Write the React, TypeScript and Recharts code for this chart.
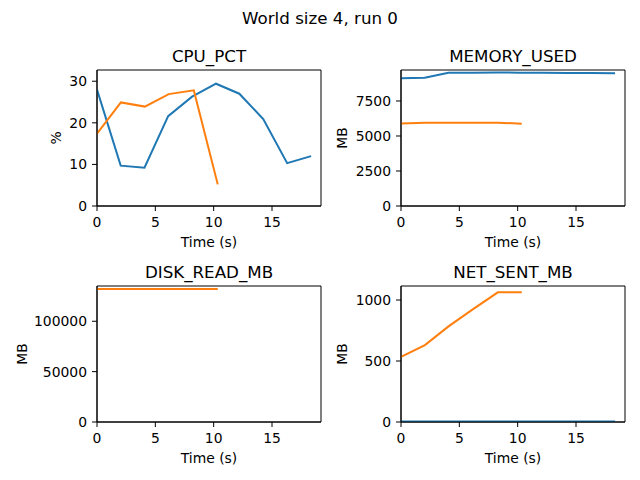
import { LineChart, Line, XAxis, YAxis, ReferenceArea, Label } from "recharts";

// sample times (s) for the two ranks
const BLUE_T = [0, 2.03, 4.07, 6.1, 8.15, 10.2, 12.2, 14.25, 16.3, 18.35];
const ORANGE_T = [0, 2.05, 4.1, 6.15, 8.3, 10.35];

const CPU_BLUE = [28.0, 9.7, 9.2, 21.6, 26.3, 29.4, 27.0, 20.9, 10.3, 12.0];
const CPU_ORANGE = [17.4, 24.9, 23.9, 26.9, 27.8, 5.2];
const MEM_BLUE = [9120, 9160, 9520, 9525, 9530, 9525, 9520, 9500, 9500, 9490];
const MEM_ORANGE = [5900, 5950, 5950, 5950, 5950, 5880];
const DISK_ORANGE = [132100, 132100, 132100, 132100, 132100, 132100];
const NET_BLUE = [4, 4, 4, 4, 4, 4, 4, 4, 4, 4];
const NET_ORANGE = [534, 630, 786, 923, 1063, 1063];

const X_TICKS = [0, 5, 10, 15];
const CPU_TICKS = [0, 10, 20, 30];
const MEM_TICKS = [0, 2500, 5000, 7500];
const DISK_TICKS = [0, 50000, 100000];
const NET_TICKS = [0, 500, 1000];

const BLUE = "#1f77b4";
const ORANGE = "#ff7f0e";
const X_MAX = 19.2;
const FONT = "'DejaVu Sans', sans-serif";

const toRows = (t: number[], v: number[]) => t.map((x, i) => ({ t: x, v: v[i] }));

type Series = { t: number[]; v: number[]; color: string };

function Panel(props: {
  left: number;
  top: number;
  yAxisWidth: number;
  yMax: number;
  yTicks: number[];
  yLabel: string;
  yLabelX: number;
  title: string;
  series: Series[];
}) {
  const { left, top, yAxisWidth, yMax, yTicks, yLabel, yLabelX, title, series } = props;
  const plotW = 224;
  const plotH = 136;
  const mTop = 5;
  const mRight = 5;
  const xAxisH = 50;
  const width = yAxisWidth + plotW + mRight;
  const height = mTop + plotH + xAxisH;
  const tick = { fill: "#000", fontSize: 13.9, fontFamily: FONT };

  return (
    <>
      <div
        style={{
          position: "absolute",
          left: left + yAxisWidth,
          top: top + mTop - 22,
          width: plotW,
          textAlign: "center",
          fontSize: 16.7,
          lineHeight: 1,
          fontFamily: FONT,
          color: "#000",
        }}
      >
        {title}
      </div>
      <div style={{ position: "absolute", left, top }}>
        <LineChart width={width} height={height} margin={{ top: mTop, right: mRight, bottom: 0, left: 0 }}>
          <XAxis
            type="number"
            dataKey="t"
            domain={[0, X_MAX]}
            ticks={X_TICKS}
            allowDataOverflow
            height={xAxisH}
            tick={tick}
            tickSize={5}
            tickMargin={6}
            stroke="#000"
          >
            <Label
              content={({ viewBox }: any) => (
                <text
                  x={viewBox.x + viewBox.width / 2}
                  y={viewBox.y + 41}
                  textAnchor="middle"
                  fontSize={13.9}
                  fontFamily={FONT}
                  fill="#000"
                >
                  Time (s)
                </text>
              )}
            />
          </XAxis>
          <YAxis
            type="number"
            domain={[0, yMax]}
            ticks={yTicks}
            allowDataOverflow
            width={yAxisWidth}
            tick={tick}
            tickSize={5}
            tickMargin={5}
            stroke="#000"
          >
            <Label
              content={({ viewBox }: any) => {
                const cy = viewBox.y + viewBox.height / 2;
                return (
                  <text
                    x={yLabelX}
                    y={cy}
                    transform={`rotate(-90 ${yLabelX} ${cy})`}
                    textAnchor="middle"
                    dominantBaseline="central"
                    fontSize={13.9}
                    fontFamily={FONT}
                    fill="#000"
                  >
                    {yLabel}
                  </text>
                );
              }}
            />
          </YAxis>
          {series.map((s, i) => (
            <Line
              key={i}
              data={toRows(s.t, s.v)}
              dataKey="v"
              stroke={s.color}
              strokeWidth={2}
              dot={false}
              activeDot={false}
              isAnimationActive={false}
            />
          ))}
          <ReferenceArea x1={0} x2={X_MAX} y1={0} y2={yMax} fill="none" stroke="#000" strokeWidth={1} />
        </LineChart>
      </div>
    </>
  );
}

export default function App() {
  return (
    <div
      style={{
        position: "absolute",
        left: 0,
        top: 0,
        width: 640,
        height: 480,
        background: "#fff",
        fontFamily: FONT,
      }}
    >
      <div
        style={{
          position: "absolute",
          left: 0,
          top: 10,
          width: 640,
          textAlign: "center",
          fontSize: 16.7,
          lineHeight: 1,
          color: "#000",
        }}
      >
        World size 4, run 0
      </div>
      <Panel
        left={0}
        top={65}
        yAxisWidth={97}
        yMax={32.7}
        yTicks={CPU_TICKS}
        yLabel="%"
        yLabelX={56}
        title="CPU_PCT"
        series={[
          { t: BLUE_T, v: CPU_BLUE, color: BLUE },
          { t: ORANGE_T, v: CPU_ORANGE, color: ORANGE },
        ]}
      />
      <Panel
        left={330}
        top={65}
        yAxisWidth={71}
        yMax={9714}
        yTicks={MEM_TICKS}
        yLabel="MB"
        yLabelX={12}
        title="MEMORY_USED"
        series={[
          { t: BLUE_T, v: MEM_BLUE, color: BLUE },
          { t: ORANGE_T, v: MEM_ORANGE, color: ORANGE },
        ]}
      />
      <Panel
        left={0}
        top={281}
        yAxisWidth={97}
        yMax={135000}
        yTicks={DISK_TICKS}
        yLabel="MB"
        yLabelX={22}
        title="DISK_READ_MB"
        series={[{ t: ORANGE_T, v: DISK_ORANGE, color: ORANGE }]}
      />
      <Panel
        left={330}
        top={281}
        yAxisWidth={71}
        yMax={1115}
        yTicks={NET_TICKS}
        yLabel="MB"
        yLabelX={12}
        title="NET_SENT_MB"
        series={[
          { t: BLUE_T, v: NET_BLUE, color: BLUE },
          { t: ORANGE_T, v: NET_ORANGE, color: ORANGE },
        ]}
      />
    </div>
  );
}
